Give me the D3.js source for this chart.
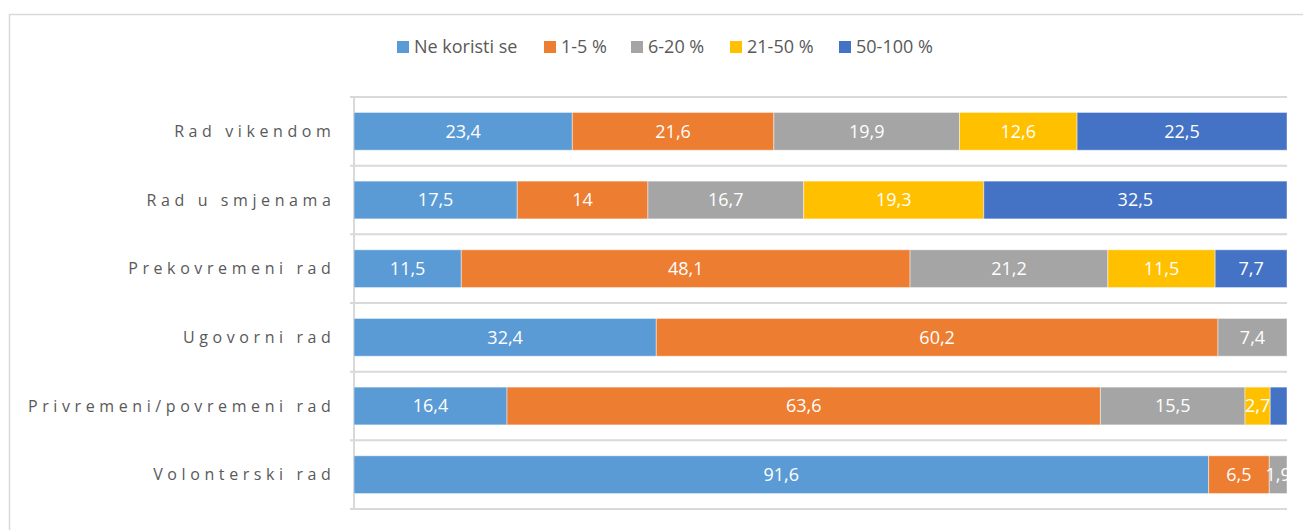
<!DOCTYPE html>
<meta charset="utf-8">
<style>
body { margin: 0; background: #fff; font-family: "Open Sans", sans-serif; }
.cat text { fill: #595959; font-size: 16px; letter-spacing: 4.6px; }
.seg-label { fill: #fff; font-size: 18px; }
.legend text { fill: #595959; font-size: 18px; }
</style>
<body>
<script src="https://cdnjs.cloudflare.com/ajax/libs/d3/7.8.5/d3.min.js"></script>
<script>
// ------------------------- data -------------------------
var categories = ["Rad vikendom", "Rad u smjenama", "Prekovremeni rad",
                  "Ugovorni rad", "Privremeni/povremeni rad", "Volonterski rad"];
var seriesNames = ["Ne koristi se", "1-5 %", "6-20 %", "21-50 %", "50-100 %"];
var colors = ["#5b9bd5", "#ed7d31", "#a5a5a5", "#ffc000", "#4472c4"];

var neKoristi = [23.4, 17.5, 11.5, 32.4, 16.4, 91.6];
var p1_5      = [21.6, 14.0, 48.1, 60.2, 63.6, 6.5];
var p6_20     = [19.9, 16.7, 21.2, 7.4, 15.5, 1.9];
var p21_50    = [12.6, 19.3, 11.5, 0, 2.7, 0];
var p50_100   = [22.5, 32.5, 7.7, 0, 1.8, 0];
// the last small segment of "Privremeni/povremeni rad" carries no label in the original
var hideLabel = [[4, 4]];

var seriesValues = [neKoristi, p1_5, p6_20, p21_50, p50_100];

// ------------------------- layout -------------------------
var W = 1303, H = 530;
var plot = {left: 354, right: 1287, top: 97, bottom: 509};

var svg = d3.select("body").append("svg")
    .attr("width", W)
    .attr("height", H);

// chart frame (partly outside the window)
svg.append("rect")
    .attr("x", 9.5).attr("y", 14.5)
    .attr("width", W).attr("height", H)
    .attr("fill", "none")
    .attr("stroke", "#d9d9d9")
    .attr("stroke-width", 1.5);

var x = d3.scaleLinear().domain([0, 100]).range([plot.left, plot.right]);
var y = d3.scaleBand().domain(categories).range([plot.top, plot.bottom]).padding(0);
var barH = y.bandwidth() * 0.55;

var rows = categories.map(function(c, i) {
  var r = {cat: c};
  seriesNames.forEach(function(s, j) { r[s] = seriesValues[j][i]; });
  return r;
});
var stacked = d3.stack().keys(seriesNames)(rows);

// gridlines at band boundaries
var bounds = categories.map(function(c) { return y(c); }).concat([plot.bottom]);
svg.append("g").selectAll("line")
    .data(bounds)
  .enter().append("line")
    .attr("x1", plot.left - 4).attr("x2", plot.right)
    .attr("y1", function(d) { return d; }).attr("y2", function(d) { return d; })
    .attr("stroke", "#d9d9d9")
    .attr("stroke-width", 2);

svg.append("line")
    .attr("x1", plot.left).attr("x2", plot.left)
    .attr("y1", plot.top).attr("y2", plot.bottom)
    .attr("stroke", "#d9d9d9")
    .attr("stroke-width", 2);

svg.append("clipPath").attr("id", "plotclip")
  .append("rect")
    .attr("x", plot.left).attr("y", plot.top)
    .attr("width", plot.right - plot.left).attr("height", plot.bottom - plot.top);

var g = svg.append("g").attr("clip-path", "url(#plotclip)");

var layer = g.selectAll(".layer")
    .data(stacked)
  .enter().append("g")
    .attr("class", "layer")
    .attr("fill", function(d, i) { return colors[i]; });

layer.selectAll("rect")
    .data(function(d) { return d; })
  .enter().append("rect")
    .attr("x", function(d) { return x(d[0]); })
    .attr("y", function(d) { return y(d.data.cat) + (y.bandwidth() - barH) / 2; })
    .attr("width", function(d) { return x(d[1]) - x(d[0]); })
    .attr("height", barH)
    .attr("stroke", "#fff")
    .attr("stroke-opacity", 0.45)
    .attr("stroke-width", 1);

layer.each(function(s, si) {
  d3.select(this).selectAll("text")
      .data(s.filter(function(d, ci) {
        var v = d[1] - d[0];
        var hidden = hideLabel.some(function(h) { return h[0] === ci && h[1] === si; });
        return v > 0 && !hidden;
      }))
    .enter().append("text")
      .attr("class", "seg-label")
      .attr("x", function(d) { return (x(d[0]) + x(d[1])) / 2; })
      .attr("y", function(d) { return y(d.data.cat) + y.bandwidth() / 2; })
      .attr("dy", "0.36em")
      .attr("text-anchor", "middle")
      .text(function(d) { return String(+(d[1] - d[0]).toFixed(1)).replace(".", ","); });
});

// category labels
svg.append("g").attr("class", "cat").selectAll("text")
    .data(categories)
  .enter().append("text")
    .attr("x", 335.5)
    .attr("y", function(d) { return y(d) + y.bandwidth() / 2; })
    .attr("dy", "0.36em")
    .attr("text-anchor", "end")
    .text(function(d) { return d; });

// legend
var legendX = [397, 544, 631, 730, 839];
var legend = svg.append("g").attr("class", "legend").selectAll("g")
    .data(seriesNames)
  .enter().append("g")
    .attr("transform", function(d, i) { return "translate(" + legendX[i] + ",47)"; });

legend.append("rect")
    .attr("x", 0).attr("y", -6)
    .attr("width", 12).attr("height", 12)
    .attr("fill", function(d, i) { return colors[i]; });

legend.append("text")
    .attr("x", 17)
    .attr("dy", "0.36em")
    .text(function(d) { return d; });
</script>
</body>
